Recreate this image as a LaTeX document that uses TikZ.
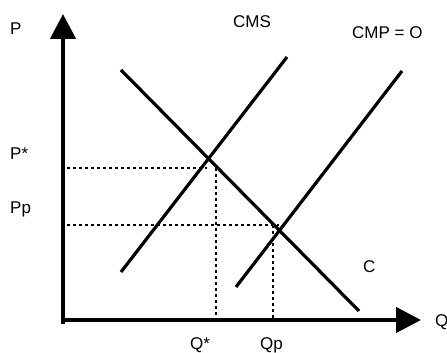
\documentclass[tikz,border=0pt]{standalone}
\usepackage{fontspec}
\setmainfont{Liberation Sans}
\usetikzlibrary{arrows.meta}

\begin{document}
\begin{tikzpicture}[x=1pt,y=1pt,
  axis/.style={line width=4.5pt,-{Triangle[length=25pt,width=25pt]}},
  curve/.style={line width=3.2pt},
  guide/.style={line width=2.6pt,dash pattern=on 2.6pt off 3.4pt},
  lbl/.style={font=\fontsize{17}{20}\selectfont,anchor=base west,inner sep=0pt}]
\useasboundingbox (-63,-33) rectangle (384,320);
% axes
\draw[axis] (0,-4) -- (0,306);
\draw[axis] (-2,0) -- (358,0);
\node[lbl] (p) at (-53,285) {P};
\node[lbl] (q) at (372,-7) {Q};
% demand and cost curves
\draw[curve] (58,250) -- (296,9);
\draw[curve] (58,48) -- (224,263);
\draw[curve] (173,33) -- (339,249);
\node[lbl] (c) at (300,47) {C};
\node[lbl] (cms) at (170,292) {CMS};
\node[lbl] (cmp) at (289,281) {CMP = O};
% guide lines
\coordinate (pstar) at (4,152);
\coordinate (estar) at (144,152);
\coordinate (qstar) at (153,2);
\coordinate (pp) at (4,95);
\coordinate (ep) at (216,95);
\coordinate (qp) at (210,2);
\draw[guide] (pstar) -- (estar);
\draw[guide] (qstar |- estar) -- (qstar);
\draw[guide] (pp) -- (ep);
\draw[guide] (qp |- ep) -- (qp);
\node[lbl] (pstarlbl) at (-53,160) {P*};
\node[lbl] (pplbl) at (-53,106) {Pp};
\node[lbl] (qstarlbl) at (127,-30) {Q*};
\node[lbl] (qplbl) at (197,-30) {Qp};
\end{tikzpicture}
\end{document}
